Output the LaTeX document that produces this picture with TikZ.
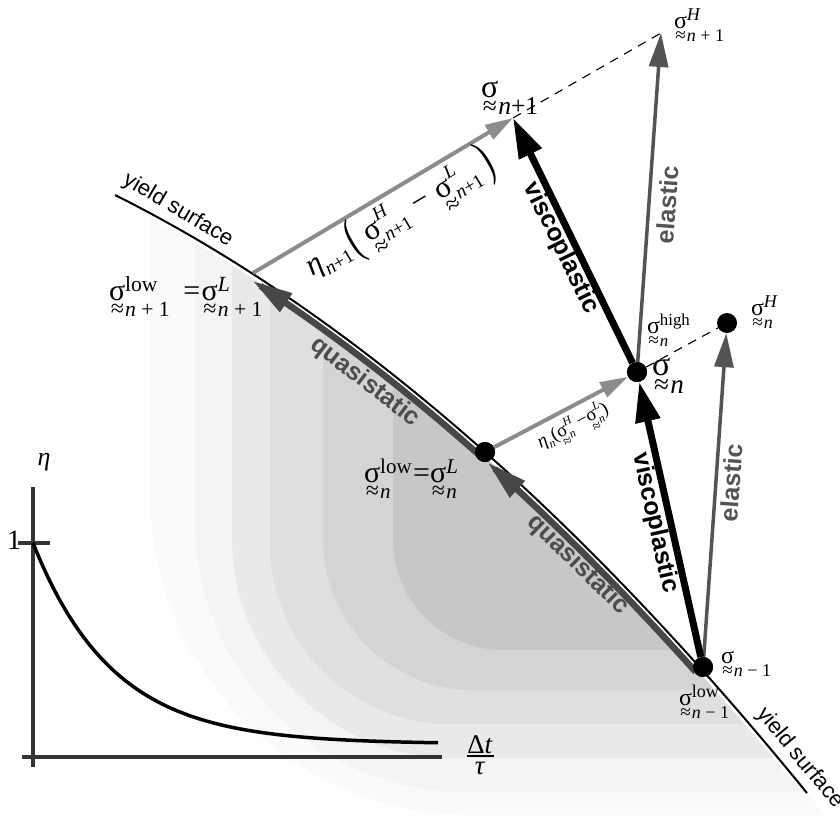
\documentclass[tikz,border=0pt]{standalone}
\usepackage{fontspec}
\setmainfont{Liberation Serif}
\newfontfamily\sansf{Liberation Sans}
\usetikzlibrary{arrows.meta}

\newcommand\sscale{0.7}
\newcommand\sm[1]{\scalebox{\sscale}{#1}}
\newsavebox\supbx
\newsavebox\subbx
% #1 approx drop, #2 sub drop, #3 sup raise, #4 sup, #5 sub
\newcommand\Sg[5]{σ\llap{\raisebox{-#1}{\scalebox{0.8}{≈}}\hspace{0.04em}}%
  \sbox\supbx{\raisebox{#3}{\sm{#4}}}%
  \sbox\subbx{\raisebox{-#2}{\sm{#5}}}%
  \ifdim\wd\supbx>\wd\subbx\relax\rlap{\usebox\subbx}\usebox\supbx\else\rlap{\usebox\supbx}\usebox\subbx\fi}
\newcommand\SA[2]{\Sg{0.55em}{0.55em}{0.3em}{#1}{#2}}
\newcommand\SB[2]{\Sg{0.58em}{0.3em}{0.45em}{#1}{#2}}
\newcommand\shadelayer[5]{\fill[#5] (#1,100) -- (#1,{#2-#4}) .. controls (#1,{#2-0.45*#4}) and ({#1+0.45*#4},#2) .. ({#1+#4},#2) -- (#3,#2) -- (#3,100) -- cycle;}

\begin{document}
\begin{tikzpicture}[x=1pt,y=-1pt,
  declare function={ys(\x)=144.5+0.3786*\x+(0.022948*\x)^2;},
  lab/.style={inner sep=0pt, outer sep=0pt},
  dot/.style={circle, fill=black, inner sep=0pt, minimum size=20pt},
  visco/.style={line width=7pt, draw=black, -{Triangle[length=40pt,width=24pt]}},
  elast/.style={line width=3.5pt, draw=black!67, -{Triangle[length=34pt,width=19pt]}},
  etaarr/.style={line width=4pt, draw=black!45, -{Triangle[length=28pt,width=16pt]}},
  quasi/.style={line width=6.5pt, draw=black!72, -{Triangle[length=40pt,width=21pt]}},
  dashln/.style={line width=1.1pt, dash pattern=on 9pt off 7pt},
  wordlab/.style={font=\sansf\bfseries\fontsize{25}{30}\selectfont, inner sep=0pt},
  yslab/.style={font=\sansf\fontsize{22}{26}\selectfont, inner sep=0pt},
  axisln/.style={line width=4pt, draw=black!80}
]
\useasboundingbox (0,0) rectangle (840,820);
\fill[white] (0,0) rectangle (840,820);

% shaded region below the yield surface
\begin{scope}
\clip plot[domain=60:840,samples=50] (\x,{ys(\x)}) -- (840,820) -- (0,820) -- (0,169) -- cycle;
\shadelayer{150}{815}{840}{320}{black!2}
\shadelayer{195}{792}{840}{270}{black!4.5}
\shadelayer{232}{758}{840}{220}{black!8.5}
\shadelayer{270}{724}{840}{180}{black!12.5}
\shadelayer{323}{690}{840}{150}{black!17}
\shadelayer{393}{650}{840}{110}{black!22}
\end{scope}

% key points
\node[dot] (dnm1) at (703,667) {};
\node[dot] (dn) at (637,372) {};
\node[dot] (dnH) at (727,323) {};
\node[dot] (dnL) at (485,452) {};
\coordinate (snp1) at (513,118);
\coordinate (snp1H) at (661,33);
\coordinate (snp1L) at (253,273);

% yield surface
\draw[white, line width=3pt, shift={(-1.6,1.6)}] plot[domain=140:790,samples=60] (\x,{ys(\x)});
\draw[line width=2pt] plot[domain=115:807,samples=80] (\x,{ys(\x)});

% quasistatic arrows
\draw[quasi, shift={(-4.3,4.3)}] plot[domain=700:492,samples=30] (\x,{ys(\x)});
\draw[quasi, shift={(-4.3,4.3)}] plot[domain=482:257,samples=30] (\x,{ys(\x)});

% dashed lines
\draw[dashln] (snp1) -- (snp1H);
\draw[dashln] (dn) -- (dnH);

% elastic arrows
\draw[elast] (dn) -- (snp1H);
\draw[elast] (dnm1) -- (dnH);

% eta arrows
\draw[etaarr] (snp1L) -- (snp1);
\draw[etaarr] (dnL) -- (dn);

% viscoplastic arrows
\draw[visco] (dnm1) -- (dn);
\draw[visco] (dn) -- (snp1);

% redraw dots on top
\node[dot] at (dnm1) {};
\node[dot] at (dn) {};
\node[dot] at (dnL) {};

% word labels
\node[wordlab, rotate=-37.3, text=black!70] (q1) at (365,382) {quasistatic};
\node[wordlab, rotate=-44.6, text=black!70] (q2) at (578,565) {quasistatic};
\node[wordlab, rotate=-77.4] (v1) at (655,523) {viscoplastic};
\node[wordlab, rotate=-64] (v2) at (561,248) {viscoplastic};
\node[wordlab, rotate=86, text=black!67] (e1) at (667,205) {elastic};
\node[wordlab, rotate=86, text=black!67] (e2) at (731,483) {elastic};
\node[yslab, rotate=-30.5] (ys1) at (178,210) {yield surface};
\node[yslab, rotate=-50.4] (ys2) at (800,758) {yield surface};

% sigma labels
\node[lab, anchor=base west, font=\fontsize{32}{36}\selectfont] (Lsnp1) at (481,97) {\def\sscale{0.8}\SA{}{\textit{n}+1}};
\node[lab, anchor=base west, font=\fontsize{24}{28}\selectfont] (LsnpH) at (674,28) {\def\sscale{0.75}\SA{\textit{H}}{\textit{n} + 1}};
\node[lab, anchor=base west, font=\fontsize{24}{28}\selectfont] (LsnH) at (751,315) {\def\sscale{0.75}\SA{\textit{H}}{\textit{n}}};
\node[lab, anchor=base west, font=\fontsize{24}{28}\selectfont] (Lshigh) at (647,333) {\def\sscale{0.7}\SA{high}{\textit{n}}};
\node[lab, anchor=base west, font=\fontsize{34}{38}\selectfont] (Lsn) at (652,375) {\def\sscale{0.8}\SA{}{\textit{n}}};
\node[lab, anchor=base west, font=\fontsize{30}{34}\selectfont] (Lslown) at (364,482) {\def\sscale{0.7}\SA{low}{\textit{n}}\hspace{0.05em}=\SA{\textit{L}}{\textit{n}}};
\node[lab, anchor=base west, font=\fontsize{30}{34}\selectfont] (Lslownp) at (109,300) {\def\sscale{0.72}\SA{low}{\textit{n} + 1}\hspace{0.45em}=\hspace{0.05em}\SA{\textit{L}}{\textit{n} + 1}};
\node[lab, anchor=base west, font=\fontsize{24}{28}\selectfont] (Lsnm1) at (721,663) {\def\sscale{0.75}\SA{}{\textit{n} − 1}};
\node[lab, anchor=base west, font=\fontsize{24}{28}\selectfont] (Lslownm) at (679,705) {\def\sscale{0.75}\SA{low}{\textit{n} − 1}};

% eta labels
\node[lab, rotate=30.8, font=\fontsize{31}{33}\selectfont] (Leta1) at (400,216)
  {\def\sscale{0.62}\textit{η}\raisebox{-0.25em}{\sm{\textit{n}+1}}\hspace{0.1em}\raisebox{-0.14em}{\scalebox{1}[1.7]{(}}\hspace{0.25em}\SB{\textit{H}}{\textit{n}+1}\hspace{0.3em}−\hspace{0.3em}\SB{\textit{L}}{\textit{n}+1}\hspace{0.2em}\raisebox{-0.14em}{\scalebox{1}[1.7]{)}}};
\node[lab, rotate=27.8, font=\fontsize{19}{22}\selectfont] (Leta2) at (574,428)
  {\def\sscale{0.62}\textit{η}\raisebox{-0.25em}{\sm{\textit{n}}}(\SB{\textit{H}}{\textit{n}}\,−\SB{\textit{L}}{\textit{n}})};

% eta graph
\draw[axisln] (33,487) -- (33,767);
\draw[axisln] (22,757) -- (442,757);
\draw[axisln] (18,543) -- (50,543);
\draw[line width=3.5pt] plot[domain=33:438,samples=80] (\x,{744-201*exp(-(\x-33)/80)});
\node[lab, anchor=base east, font=\fontsize{28}{30}\selectfont] (one) at (21,549) {1};
\node[lab, font=\fontsize{26}{30}\selectfont\itshape] (etal) at (44,462) {η};
\node[lab, font=\fontsize{27}{30}\selectfont] (dt) at (480,755) {\shortstack{Δ\textit{t}\\[-1pt]\rule{27pt}{1.8pt}\\[2pt]\textit{τ}}};
\end{tikzpicture}
\end{document}
